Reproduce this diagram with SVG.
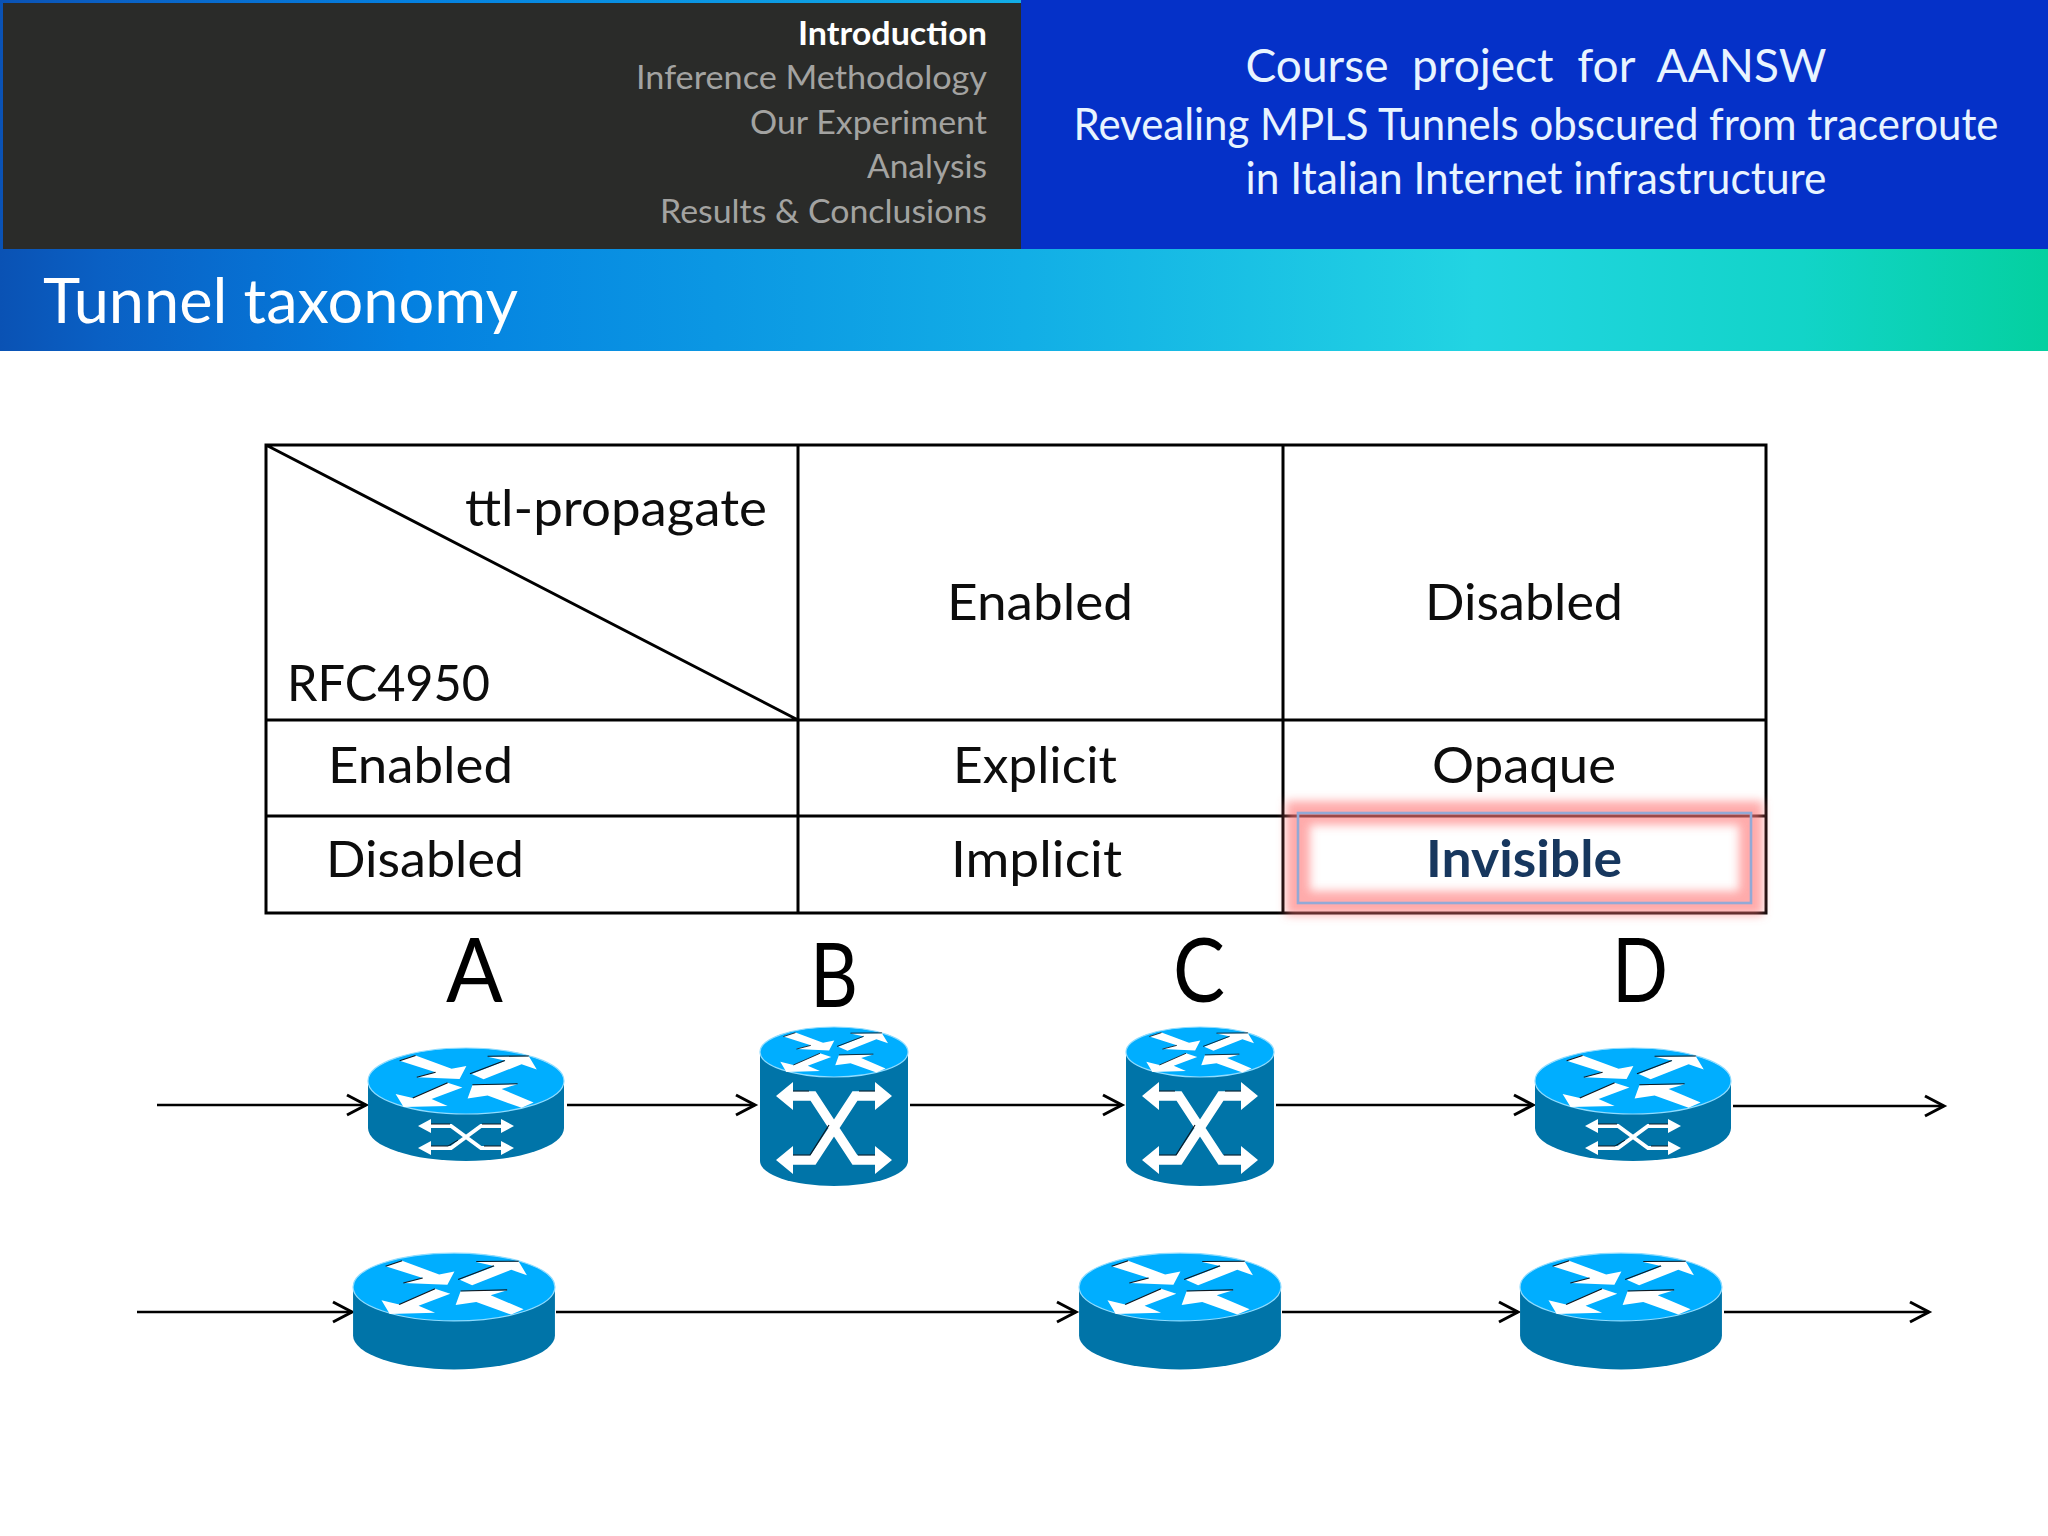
<svg xmlns="http://www.w3.org/2000/svg" xmlns:xlink="http://www.w3.org/1999/xlink" width="2048" height="1536" viewBox="0 0 2048 1536">
<style>
text{font-family:"Lato","Open Sans","Liberation Sans",sans-serif}
.menu{font-size:32.5px;fill:#a3a3a1;text-anchor:end}
.head{font-size:44px;fill:#e8f4ff;text-anchor:middle}
.cell{font-size:51px;fill:#0d0d0d}
.letter{font-size:90px;fill:#000}
.grid{stroke:#000;stroke-width:3;fill:none}
.conn{stroke:#000;stroke-width:2.6;fill:none;marker-end:url(#open)}
.side{fill:#0074a8}
.top{fill:#00aeff;stroke:#8fdcff;stroke-width:1.2}
.w{fill:#fff}
.ws{fill:none;stroke:#fff}
.k{fill:none;stroke:#101820}
</style>
<defs>
<linearGradient id="band" x1="0" x2="1" y1="0" y2="0">
<stop offset="0" stop-color="#0a52b4"/><stop offset=".05" stop-color="#0a60c4"/><stop offset=".2" stop-color="#0480e0"/><stop offset=".5" stop-color="#12aee6"/><stop offset=".72" stop-color="#22d4e2"/><stop offset=".88" stop-color="#12d4c8"/><stop offset="1" stop-color="#04d0a0"/>
</linearGradient>
<filter id="blur" x="-10%" y="-40%" width="120%" height="180%"><feGaussianBlur stdDeviation="5"/></filter>
<marker id="open" markerUnits="userSpaceOnUse" markerWidth="26" markerHeight="28" refX="21" refY="14" orient="auto"><path d="M2,4 L21,14 L2,24" fill="none" stroke="#000" stroke-width="3"/></marker>
<g id="arrows" transform="scale(.4,.348) translate(-331,-213)">
<path class="w" d="M165,155 L205,140 L295,178 L332,170 L315,207 L208,202 L255,188Z"/>
<path class="w" d="M345,193 L430,155 L385,143 L488,142 L508,180 L470,165 L375,208Z"/>
<path class="w" d="M285,218 L322,232 L245,265 L285,285 L175,288 L155,250 L198,262Z"/>
<path class="w" d="M500,275 L470,290 L385,255 L335,263 L347,225 L460,222 L420,236Z"/>
<path class="k" stroke-width="3" d="M165,155 L205,140 M208,202 L255,188 M341,192 L428,154 M385,142 L488,141 M198,262 L285,218 M347,224 L460,221"/>
</g>
<g id="cyl-router">
<path class="side" d="M-98,0 V47 A98,33 0 0 0 98,47 V0Z"/>
<ellipse class="top" rx="98" ry="33"/>
<use xlink:href="#arrows" href="#arrows"/>
</g>
<g id="small-x">
<path class="ws" stroke-width="3.8" d="M-36,-11 H-15 L15,11 H36 M36,-11 H15 L-15,11 H-36"/>
<path class="w" d="M-48,-11 L-35,-18 V-4Z M48,-11 L35,-18 V-4Z M-48,11 L-35,4 V18Z M48,11 L35,4 V18Z"/>
<path class="k" stroke-width="1" d="M-35,-13 H-16 M16,-13 H35 M-35,9 H-18 L-8,3 M35,9 H18"/>
</g>
<g id="big-switch">
<path class="side" d="M-74,0 V109 A74,25 0 0 0 74,109 V0Z"/>
<ellipse class="top" rx="74" ry="25"/>
<use xlink:href="#arrows" href="#arrows" transform="scale(.763)"/>
<g transform="translate(0,76)">
<path class="ws" stroke-width="9.4" stroke-linejoin="miter" d="M-45,-32 H-21 L21,32 H45 M45,-32 H21 L-21,32 H-45"/>
<path class="w" d="M-58,-32 L-41,-46 V-18Z M58,-32 L41,-46 V-18Z M-58,32 L-41,18 V46Z M58,32 L41,18 V46Z"/>
<path class="k" stroke-width="1.2" d="M-41,27 H-24 L-5,-3 M41,27 H24 M-41,-37 H-25 M25,-37 H41"/>
</g>
</g>
</defs>

<rect id="page" width="2048" height="1536" fill="#fff"/>
<g id="header">
<rect x="0" y="0" width="2048" height="351" fill="url(#band)"/>
<rect x="3" y="3" width="1018" height="246" fill="#2a2b29"/>
<rect x="1021" y="0" width="1027" height="249" fill="#0531c8"/>
<text class="menu" x="987" y="45" textLength="189" lengthAdjust="spacingAndGlyphs" font-weight="700" style="fill:#fff">Introduction</text>
<text class="menu" x="987" y="89" textLength="351" lengthAdjust="spacingAndGlyphs">Inference Methodology</text>
<text class="menu" x="987" y="134" textLength="237" lengthAdjust="spacingAndGlyphs">Our Experiment</text>
<text class="menu" x="987" y="178" textLength="120" lengthAdjust="spacingAndGlyphs">Analysis</text>
<text class="menu" x="987" y="223" textLength="327" lengthAdjust="spacingAndGlyphs">Results &amp; Conclusions</text>
<text class="head" x="1536" y="82" xml:space="preserve" textLength="581" lengthAdjust="spacingAndGlyphs" style="font-size:47px">Course  project  for  AANSW</text>
<text class="head" x="1536" y="140" textLength="925" lengthAdjust="spacingAndGlyphs">Revealing MPLS Tunnels obscured from traceroute</text>
<text class="head" x="1536" y="194" textLength="581" lengthAdjust="spacingAndGlyphs">in Italian Internet infrastructure</text>
<text x="43" y="323" textLength="475" lengthAdjust="spacingAndGlyphs" font-size="62" fill="#fff">Tunnel taxonomy</text>
</g>

<g id="table">
<path class="grid" d="M266,445 H1766 V913 H266Z M798,445 V913 M1283,445 V913 M266,720 H1766 M266,816 H1766 M266,445 L798,720"/>
<text class="cell" x="465" y="526" textLength="302" lengthAdjust="spacingAndGlyphs">ttl-propagate</text>
<text class="cell" x="287" y="701" textLength="203" lengthAdjust="spacingAndGlyphs">RFC4950</text>
<text class="cell" x="947" y="620" textLength="186" lengthAdjust="spacingAndGlyphs">Enabled</text>
<text class="cell" x="1425" y="620" textLength="198" lengthAdjust="spacingAndGlyphs">Disabled</text>
<text class="cell" x="328" y="783" textLength="185" lengthAdjust="spacingAndGlyphs">Enabled</text>
<text class="cell" x="953" y="783" textLength="164" lengthAdjust="spacingAndGlyphs">Explicit</text>
<text class="cell" x="1432" y="783" textLength="184" lengthAdjust="spacingAndGlyphs">Opaque</text>
<text class="cell" x="326" y="877" textLength="198" lengthAdjust="spacingAndGlyphs">Disabled</text>
<text class="cell" x="951" y="877" textLength="171" lengthAdjust="spacingAndGlyphs">Implicit</text>
</g>
<g id="highlight">
<rect x="1298" y="813" width="453" height="90" fill="none" stroke="#f77" stroke-opacity=".62" stroke-width="24" filter="url(#blur)"/>
<rect x="1298" y="813" width="453" height="90" fill="none" stroke="#93a9d6" stroke-width="2.6"/>
<text class="cell" x="1426" y="877" textLength="196" lengthAdjust="spacingAndGlyphs" font-weight="700" style="fill:#17375e">Invisible</text>
</g>

<g id="connectors">
<path class="conn" d="M157,1105 H366"/>
<path class="conn" d="M567,1105 H755"/>
<path class="conn" d="M910,1105 H1122"/>
<path class="conn" d="M1276,1105 H1533"/>
<path class="conn" d="M1733,1106 L1944,1106"/>
<path class="conn" d="M137,1312 H352"/>
<path class="conn" d="M556,1312 H1076"/>
<path class="conn" d="M1282,1312 H1518"/>
<path class="conn" d="M1724,1312 H1929"/>
</g>

<g id="node-a"><use xlink:href="#cyl-router" href="#cyl-router" transform="translate(466,1081)"/><use xlink:href="#small-x" href="#small-x" transform="translate(466,1137)"/><text class="letter" x="446" y="1002" textLength="57" lengthAdjust="spacingAndGlyphs">A</text></g>
<g id="node-b"><use xlink:href="#big-switch" href="#big-switch" transform="translate(834,1052)"/><text class="letter" x="810" y="1007" textLength="48" lengthAdjust="spacingAndGlyphs">B</text></g>
<g id="node-c"><use xlink:href="#big-switch" href="#big-switch" transform="translate(1200,1052)"/><text class="letter" x="1173" y="1002" textLength="52" lengthAdjust="spacingAndGlyphs">C</text></g>
<g id="node-d"><use xlink:href="#cyl-router" href="#cyl-router" transform="translate(1633,1081)"/><use xlink:href="#small-x" href="#small-x" transform="translate(1633,1137)"/><text class="letter" x="1612" y="1002" textLength="56" lengthAdjust="spacingAndGlyphs">D</text></g>
<g id="node-e"><use xlink:href="#cyl-router" href="#cyl-router" transform="translate(454,1287) scale(1.03)"/></g>
<g id="node-f"><use xlink:href="#cyl-router" href="#cyl-router" transform="translate(1180,1287) scale(1.03)"/></g>
<g id="node-g"><use xlink:href="#cyl-router" href="#cyl-router" transform="translate(1621,1287) scale(1.03)"/></g>
</svg>
